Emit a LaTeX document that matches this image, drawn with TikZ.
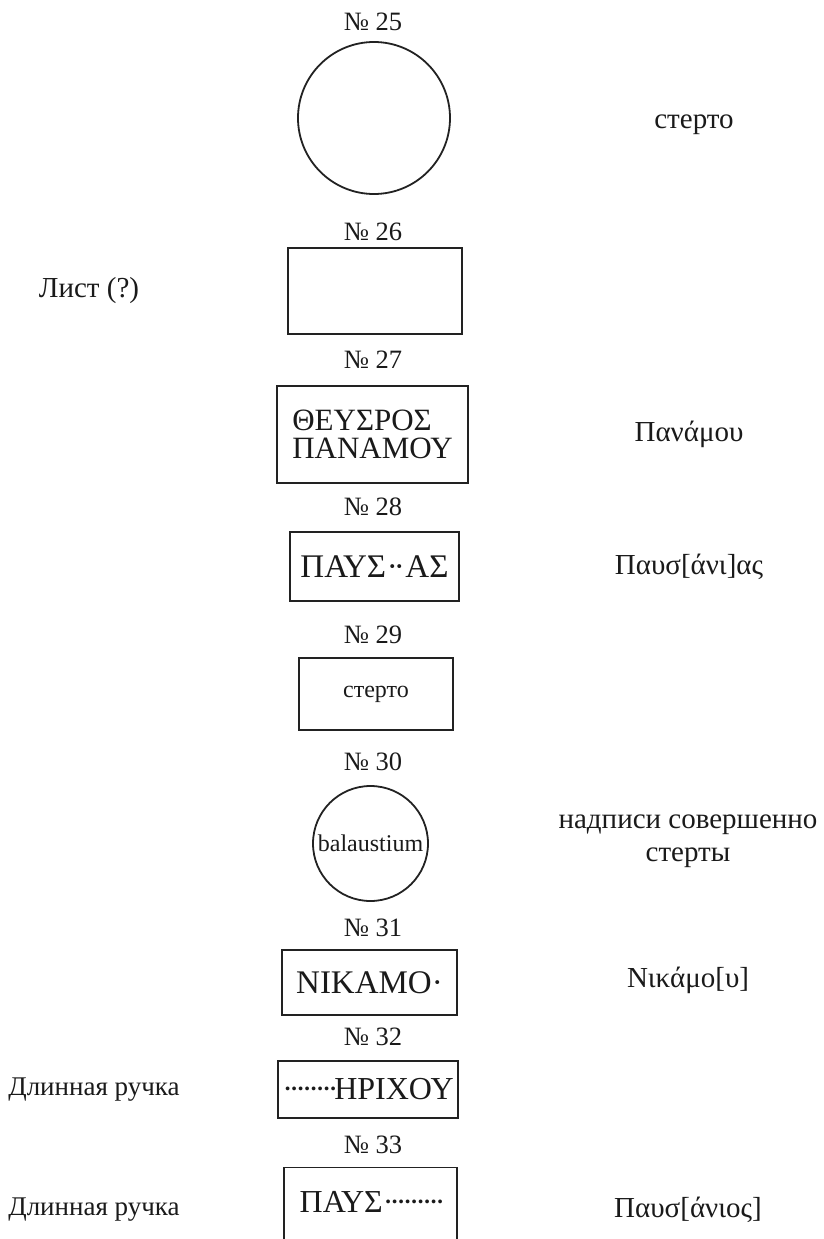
\documentclass[tikz,border=0pt]{standalone}
\usepackage{fontspec}
\setmainfont{Liberation Serif}
\usepackage{tikz}
\usetikzlibrary{positioning}
\definecolor{sline}{HTML}{222222}
\definecolor{stext}{HTML}{1A1A1A}
\tikzset{snum/.style={font=\fontsize{26.5}{30}\selectfont, text=stext, inner sep=0pt}}
\tikzset{snote/.style={font=\fontsize{29}{33}\selectfont, text=stext, inner sep=0pt, align=center}}
\tikzset{sbox/.style={rectangle, draw=sline, line width=1.4pt, inner sep=0pt, align=center, font=\fontsize{33}{28}\selectfont, text=stext}}
\tikzset{sround/.style={circle, draw=sline, line width=1.8pt, inner sep=0pt, font=\fontsize{24}{28}\selectfont, text=stext}}
\newcommand{\mdots}[1]{\foreach \k in {1,...,#1}{·\kern-0.13em}}

\begin{document}
\begin{tikzpicture}[x=1pt, y=-1pt]
  \useasboundingbox (0,0) rectangle (823,1239);

  % seal 25
  \node[snum] (n25) at (373,22) {№ 25};
  \node[sround, minimum size=152pt] (s25) at (374,118) {};
  \node[snote] (t25) at (694,125) {стерто};

  % seal 26
  \node[snum] (n26) at (373,232) {№ 26};
  \node[sbox, minimum width=174pt, minimum height=86pt] (s26) at (375,291) {};
  \node[snote] (t26) at (89,291) {Лист (?)};

  % seal 27
  \node[snum] (n27) at (373,360) {№ 27};
  \node[sbox, minimum width=191pt, minimum height=97pt, align=left, font=\fontsize{31}{28}\selectfont] (s27) at (372.5,434.5) {ΘΕΥΣΡΟΣ\\ΠΑΝΑΜΟΥ};
  \node[snote] (t27) at (689,434) {Πανάμου};

  % seal 28
  \node[snum] (n28) at (373,507) {№ 28};
  \node[sbox, minimum width=169pt, minimum height=69pt] (s28) at (374.5,566.5) {ΠΑΥΣ\kern0.02em·\kern-0.12em·\kern0.02emΑΣ};
  \node[snote] (t28) at (689,567) {Παυσ[άνι]ας};

  % seal 29
  \node[snum] (n29) at (373,635) {№ 29};
  \node[sbox, minimum width=154pt, minimum height=72pt, font=\fontsize{24}{28}\selectfont] (s29) at (376,694) {стерто};

  % seal 30
  \node[snum] (n30) at (373,762) {№ 30};
  \node[sround, minimum size=115pt] (s30) at (370.5,843.5) {balaustium};
  \node[snote] (t30) at (688,841) {надписи совершенно\\стерты};

  % seal 31
  \node[snum] (n31) at (373,928) {№ 31};
  \node[sbox, minimum width=175pt, minimum height=65pt] (s31) at (369.5,982.5) {ΝΙΚΑΜΟ·};
  \node[snote] (t31) at (688,980) {Νικάμο[υ]};

  % seal 32
  \node[snum] (n32) at (373,1037) {№ 32};
  \node[sbox, minimum width=180pt, minimum height=57pt, font=\fontsize{32}{28}\selectfont] (s32) at (368,1089.5) {\mdots{8}ΗΡΙΧΟΥ};
  \node[snote, font=\fontsize{27}{31}\selectfont] (t32) at (94,1090) {Длинная ручка};

  % seal 33 (runs off the page)
  \node[snum] (n33) at (373,1145) {№ 33};
  \node[sbox, minimum width=173pt, minimum height=120pt, anchor=north] (s33) at (370.5,1167) {};
  \node[font=\fontsize{32}{28}\selectfont, text=stext, inner sep=0pt] (w33) at (s33.north |- 0,1202) {ΠΑΥΣ\mdots{9}};
  \node[snote, font=\fontsize{27}{31}\selectfont] (t33) at (94,1210) {Длинная ручка};
  \node[snote] (u33) at (688,1210) {Παυσ[άνιος]};
\end{tikzpicture}
\end{document}
